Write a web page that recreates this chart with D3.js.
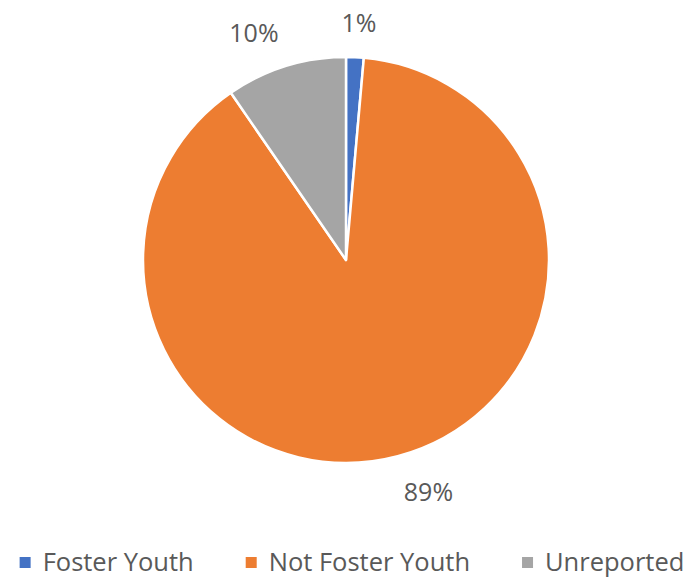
<!DOCTYPE html>
<html>
<head>
<meta charset="utf-8">
<script src="https://cdn.jsdelivr.net/npm/d3@7"></script>
<style>
  html, body { margin: 0; padding: 0; background: #fff; }
  svg { display: block; }
  text { font-family: "Open Sans", Lato, sans-serif; fill: #595959; }
</style>
</head>
<body>
<svg id="chart" width="693" height="580"></svg>
<script>
// Foster youth status breakdown (percent of students)
const categories = ["Foster Youth", "Not Foster Youth", "Unreported"];
const values = [1.4, 89.0, 9.6];
const labels = ["1%", "89%", "10%"];
const colors = ["#4472C4", "#ED7D31", "#A5A5A5"];

const svg = d3.select("#chart");
const cx = 346, cy = 260, radius = 203;

const pie = d3.pie().sort(null).value(d => d)(values);
const arc = d3.arc().innerRadius(0).outerRadius(radius);

const g = svg.append("g").attr("transform", `translate(${cx},${cy})`);

g.selectAll("path.slice")
  .data(pie)
  .join("path")
  .attr("class", "slice")
  .attr("d", arc)
  .attr("fill", (d, i) => colors[i])
  .attr("stroke", "#fff")
  .attr("stroke-width", 2.5)
  .attr("stroke-linejoin", "round");

// Outside-end data labels, pushed away from the rim along the slice's mid-angle
const labelFont = 25;
const labelR = radius + 24;
const clamp = v => Math.max(-1, Math.min(1, v));
g.selectAll("text.lbl")
  .data(pie)
  .join("text")
  .attr("class", "lbl")
  .attr("font-size", labelFont)
  .attr("text-anchor", "middle")
  .attr("dominant-baseline", "central")
  .text((d, i) => labels[i])
  .each(function (d) {
    const a = (d.startAngle + d.endAngle) / 2;
    const s = Math.sin(a), c = Math.cos(a);
    const w = this.getComputedTextLength();
    const h = labelFont * 0.9;
    const x = labelR * s + (w / 2) * clamp(s * 4);
    const y = -labelR * c - (h / 2) * clamp(c * 4);
    d3.select(this).attr("x", x).attr("y", y);
  });

// Legend along the bottom, centred
const legendFont = 25.5;
const legendBase = 571;
const sq = 11, sqGap = 12, itemGap = 52;
const legend = svg.append("g");
const items = legend.selectAll("g.item")
  .data(categories)
  .join("g")
  .attr("class", "item");
items.append("rect")
  .attr("width", sq).attr("height", sq)
  .attr("y", legendBase - 14)
  .attr("fill", (d, i) => colors[i]);
items.append("text")
  .attr("font-size", legendFont)
  .attr("y", legendBase)
  .text(d => d);

const widths = [];
items.select("text").each(function () { widths.push(this.getComputedTextLength()); });
const total = d3.sum(widths) + categories.length * (sq + sqGap) + itemGap * (categories.length - 1);
let x0 = 352 - total / 2;
items.each(function (d, i) {
  const it = d3.select(this);
  it.select("rect").attr("x", x0);
  it.select("text").attr("x", x0 + sq + sqGap);
  x0 += sq + sqGap + widths[i] + itemGap;
});
</script>
</body>
</html>
